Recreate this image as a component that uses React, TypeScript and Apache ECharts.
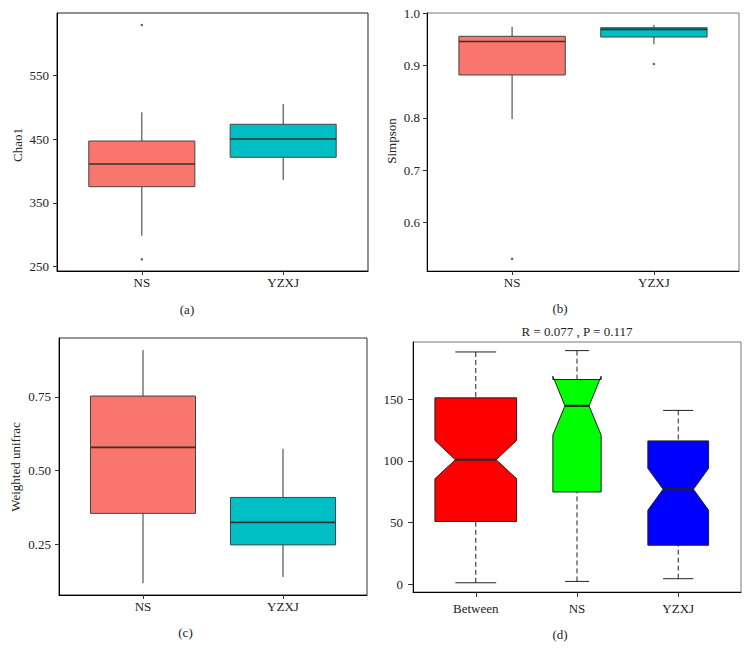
import React, { useEffect, useRef } from "react";
import * as echarts from "echarts";

// ---------- data ----------
const groupsAC = ["NS", "YZXJ"];
// [lowerWhisker, Q1, median, Q3, upperWhisker]
const chao1Stats = [
  [298.6, 375.4, 411, 447, 492],
  [385.9, 421.5, 450.2, 473.2, 505],
];
const chao1Outliers = [
  [1, 628.8],
  [1, 261.6],
];
const chao1Ticks = [250, 350, 450, 550];

const simpsonStats = [
  [0.7975, 0.882, 0.946, 0.956, 0.974],
  [0.9406, 0.9546, 0.9693, 0.9724, 0.978],
];
const simpsonOutliers = [
  [1, 0.53],
  [2, 0.903],
];
const simpsonTicks = [0.6, 0.7, 0.8, 0.9, 1.0];

const unifracStats = [
  [0.118, 0.355, 0.579, 0.753, 0.909],
  [0.139, 0.248, 0.3245, 0.409, 0.574],
];
const unifracTicks = [0.25, 0.5, 0.75];

const groupsD = ["Between", "NS", "YZXJ"];
// [lowerWhisker, Q1, notchLow, median, notchHigh, Q3, upperWhisker]
const anosimStats = [
  [1.0, 50.8, 85.6, 101, 116.7, 151.3, 188.6],
  [2.1, 74.8, 121, 144.8, 168.9, 166.2, 189.7],
  [4.3, 31.5, 60, 77, 94, 116.3, 141.1],
];
const anosimBoxWidths = [0.807, 0.477, 0.6];
const anosimTicks = [0, 50, 100, 150];
const anosimR = 0.077;
const anosimP = 0.117;

// ---------- style ----------
const FONT = '"Liberation Serif", "Times New Roman", serif';
const ggColors = ["#F8766D", "#00BFC4"];
const dColors = ["#FF0000", "#00FF00", "#0000FF"];

function ggBoxRenderer(colors: string[]) {
  return (params: any, api: any) => {
    const x = api.value(0);
    const lo = api.value(1);
    const q1 = api.value(2);
    const med = api.value(3);
    const q3 = api.value(4);
    const hi = api.value(5);
    const hw = 0.375;
    const P = (dx: number, y: number) => api.coord([x + dx, y]);
    const tl = P(-hw, q3);
    const br = P(hw, q1);
    const line = (a: number[], b: number[], w: number) => ({
      type: "line",
      shape: { x1: a[0], y1: a[1], x2: b[0], y2: b[1] },
      style: { stroke: "#333", lineWidth: w },
    });
    return {
      type: "group",
      children: [
        line(P(0, hi), P(0, q3), 1),
        line(P(0, lo), P(0, q1), 1),
        {
          type: "rect",
          shape: { x: tl[0], y: tl[1], width: br[0] - tl[0], height: br[1] - tl[1] },
          style: { fill: colors[params.dataIndex], stroke: "#444", lineWidth: 1 },
        },
        line(P(-hw, med), P(hw, med), 1.6),
      ],
    };
  };
}

function notchRenderer(params: any, api: any) {
  const x = api.value(0);
  const lo = api.value(1);
  const q1 = api.value(2);
  const cl = api.value(3);
  const med = api.value(4);
  const ch = api.value(5);
  const q3 = api.value(6);
  const hi = api.value(7);
  const w = api.value(8) / 2;
  const P = (dx: number, y: number) => api.coord([x + dx, y]);
  const pts = [
    P(-w, q1), P(w, q1), P(w, cl), P(w * 0.5, med), P(w, ch),
    P(w, q3), P(-w, q3), P(-w, ch), P(-w * 0.5, med), P(-w, cl),
  ];
  const line = (a: number[], b: number[], w2: number, dash?: number[]) => ({
    type: "line",
    shape: { x1: a[0], y1: a[1], x2: b[0], y2: b[1] },
    style: { stroke: "#222", lineWidth: w2, lineDash: dash },
  });
  return {
    type: "group",
    children: [
      line(P(0, hi), P(0, q3), 1, [5, 3]),
      line(P(0, lo), P(0, q1), 1, [5, 3]),
      line(P(-w / 2, hi), P(w / 2, hi), 1),
      line(P(-w / 2, lo), P(w / 2, lo), 1),
      {
        type: "polygon",
        shape: { points: pts },
        style: { fill: dColors[params.dataIndex], stroke: "#222", lineWidth: 1 },
      },
      line(P(-w * 0.5, med), P(w * 0.5, med), 2.2),
    ],
  };
}

const xAx = (gi: number, cats: string[], min: number, max: number, margin: number) => {
  const vals = cats.map((_, i) => i + 1);
  return {
    type: "value",
    gridIndex: gi,
    min,
    max,
    axisLine: { show: true, onZero: false, lineStyle: { color: "#000", width: 1 } },
    axisTick: { show: true, customValues: vals, length: gi === 3 ? 5 : 4, lineStyle: { color: "#333" } },
    axisLabel: {
      customValues: vals,
      formatter: (v: number) => cats[Math.round(v) - 1] ?? "",
      fontFamily: FONT,
      fontSize: 13,
      color: "#222",
      margin,
    },
    splitLine: { show: false },
  };
};

const yAx = (gi: number, min: number, max: number, ticks: number[], digits: number, margin: number) => ({
  type: "value",
  gridIndex: gi,
  min,
  max,
  axisLine: { show: true, onZero: false, lineStyle: { color: "#000", width: 1 } },
  axisTick: { show: true, customValues: ticks, length: gi === 3 ? 5 : 4, lineStyle: { color: "#333" } },
  axisLabel: {
    customValues: ticks,
    formatter: (v: number) => v.toFixed(digits),
    fontFamily: FONT,
    fontSize: 13,
    color: "#222",
    margin,
  },
  splitLine: { show: false },
});

const txt = (x: number, y: number, text: string, rotate = false) => ({
  type: "text",
  x,
  y,
  rotation: rotate ? Math.PI / 2 : 0,
  style: {
    text,
    fontFamily: FONT,
    fontSize: 13,
    fill: "#222",
    align: "center",
    verticalAlign: "middle",
  },
  silent: true,
});

export default function App() {
  const ref = useRef<HTMLDivElement>(null);
  useEffect(() => {
    if (!ref.current) return;
    const chart = echarts.init(ref.current, null, { renderer: "svg" });
    const ggData = (stats: number[][]) => stats.map((s, i) => [i + 1, ...s]);
    chart.setOption({
      animation: false,
      backgroundColor: "#fff",
      grid: [
        { left: 57, top: 13, width: 311, height: 258, show: true, borderColor: "#222", borderWidth: 1, backgroundColor: "transparent" },
        { left: 427, top: 13, width: 312, height: 258, show: true, borderColor: "#777", borderWidth: 1, backgroundColor: "transparent" },
        { left: 59, top: 338, width: 308, height: 257, show: true, borderColor: "#333", borderWidth: 1, backgroundColor: "transparent" },
        { left: 413, top: 342, width: 328, height: 250, show: true, borderColor: "#777", borderWidth: 1, backgroundColor: "transparent" },
      ],
      xAxis: [
        xAx(0, groupsAC, 0.4, 2.6, 5),
        xAx(1, groupsAC, 0.4, 2.6, 5),
        xAx(2, groupsAC, 0.4, 2.6, 5),
        xAx(3, groupsD, 0.38, 3.62, 10),
      ],
      yAxis: [
        yAx(0, 243.3, 647.6, chao1Ticks, 0, 8),
        yAx(1, 0.5067, 1.0006, simpsonTicks, 1, 7),
        yAx(2, 0.078, 0.95, unifracTicks, 2, 8),
        yAx(3, -6.5, 196.7, anosimTicks, 0, 10),
      ],
      series: [
        { type: "custom", xAxisIndex: 0, yAxisIndex: 0, silent: true, renderItem: ggBoxRenderer(ggColors), data: ggData(chao1Stats), encode: { x: 0, y: [1, 2, 3, 4, 5] } },
        { type: "scatter", xAxisIndex: 0, yAxisIndex: 0, silent: true, symbol: "circle", symbolSize: 2.5, itemStyle: { color: "#333" }, data: chao1Outliers },
        { type: "custom", xAxisIndex: 1, yAxisIndex: 1, silent: true, renderItem: ggBoxRenderer(ggColors), data: ggData(simpsonStats), encode: { x: 0, y: [1, 2, 3, 4, 5] } },
        { type: "scatter", xAxisIndex: 1, yAxisIndex: 1, silent: true, symbol: "circle", symbolSize: 2.5, itemStyle: { color: "#333" }, data: simpsonOutliers },
        { type: "custom", xAxisIndex: 2, yAxisIndex: 2, silent: true, renderItem: ggBoxRenderer(ggColors), data: ggData(unifracStats), encode: { x: 0, y: [1, 2, 3, 4, 5] } },
        {
          type: "custom", xAxisIndex: 3, yAxisIndex: 3, silent: true, renderItem: notchRenderer,
          data: anosimStats.map((s, i) => [i + 1, ...s, anosimBoxWidths[i]]),
          encode: { x: 0, y: [1, 2, 3, 4, 5, 6, 7] },
        },
      ],
      graphic: [
        txt(17, 145, "Chao1", false),
        txt(391, 141, "Simpson", false),
        txt(15.5, 467, "Weighted unifrac", false),
        txt(187, 309, "(a)"),
        txt(560, 308.5, "(b)"),
        txt(185.5, 632.5, "(c)"),
        txt(560, 634, "(d)"),
        txt(577, 331.5, `R = ${anosimR.toFixed(3)} , P = ${anosimP.toFixed(3)}`),
      ].map((g: any, i: number) => (i < 3 ? { ...g, rotation: Math.PI / 2 } : g)),
    });
    return () => chart.dispose();
  }, []);
  return (
    <div
      ref={ref}
      style={{ position: "absolute", left: 0, top: 0, width: 750, height: 660, background: "#fff" }}
    />
  );
}
